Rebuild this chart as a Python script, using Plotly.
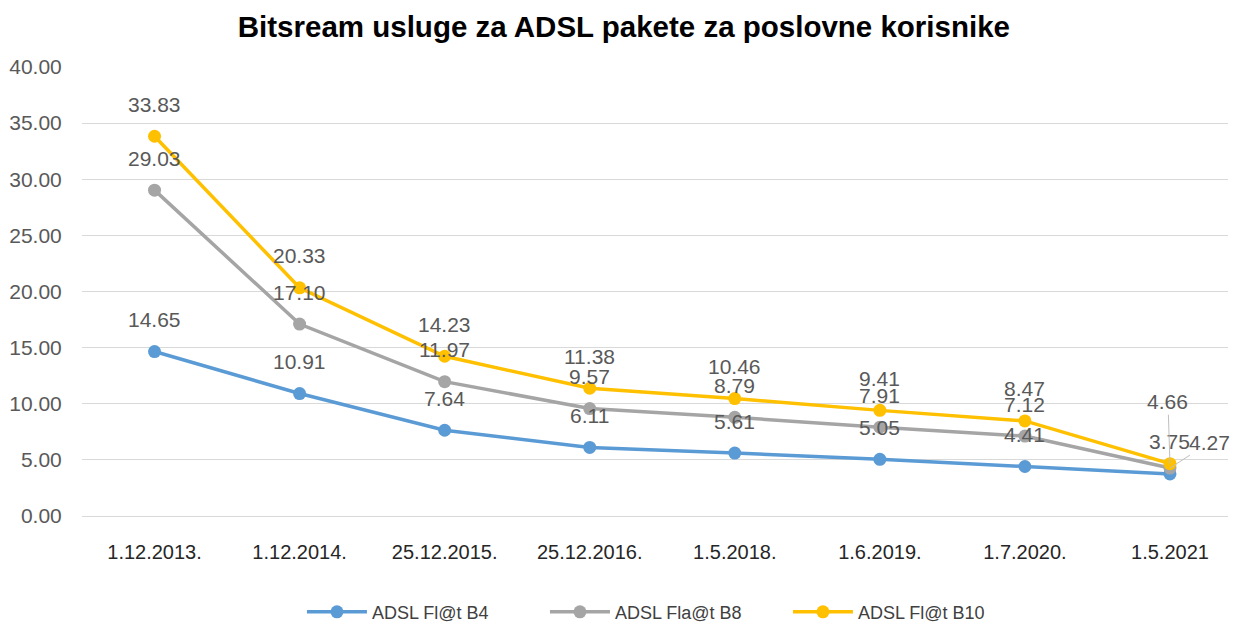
import plotly.graph_objects as go

dates = ["1.12.2013.", "1.12.2014.", "25.12.2015.", "25.12.2016.",
         "1.5.2018.", "1.6.2019.", "1.7.2020.", "1.5.2021"]
b4 = [14.65, 10.91, 7.64, 6.11, 5.61, 5.05, 4.41, 3.75]
b8 = [29.03, 17.10, 11.97, 9.57, 8.79, 7.91, 7.12, 4.27]
b10 = [33.83, 20.33, 14.23, 11.38, 10.46, 9.41, 8.47, 4.66]

series = [
    ("ADSL Fl@t B4", b4, "#5B9BD5"),
    ("ADSL Fla@t B8", b8, "#A5A5A5"),
    ("ADSL Fl@t B10", b10, "#FFC000"),
]

FONT = "Liberation Sans, Arial"
LABEL_FONT = dict(family=FONT, size=21, color="#595959")

fig = go.Figure()
for name, vals, color in series:
    fig.add_trace(go.Scatter(
        x=dates, y=vals, name=name, mode="lines+markers",
        line=dict(color=color, width=3.5),
        marker=dict(color=color, size=13),
        cliponaxis=False,
    ))

# data labels ~32px above each point
for d, v in zip(dates, b4):
    fig.add_annotation(x=d, y=v, text=f"{v:.2f}", showarrow=False,
                       yshift=32, font=LABEL_FONT)
for vals in (b8, b10):
    for d, v in zip(dates[:-1], vals[:-1]):
        fig.add_annotation(x=d, y=v, text=f"{v:.2f}", showarrow=False,
                           yshift=32, font=LABEL_FONT)

# last point labels for B8/B10 are pulled out with leader lines
last = dates[-1]
fig.add_annotation(x=last, y=b10[-1], text=f"{b10[-1]:.2f}", ax=-2, ay=-62,
                   showarrow=True, arrowhead=0, arrowcolor="#BFBFBF", arrowwidth=1,
                   font=LABEL_FONT, standoff=0)
fig.add_annotation(x=last, y=b8[-1], text=f"{b8[-1]:.2f}", ax=40, ay=-26,
                   showarrow=True, arrowhead=0, arrowcolor="#BFBFBF", arrowwidth=1,
                   font=LABEL_FONT, standoff=0)

fig.update_layout(
    width=1233, height=624,
    margin=dict(l=82, r=5, t=67, b=108, autoexpand=False),
    paper_bgcolor="white", plot_bgcolor="white",
    title=dict(text="<b>Bitsream usluge za ADSL pakete za poslovne korisnike</b>",
               x=0.506, xanchor="center", y=0.957, yanchor="middle",
               font=dict(family=FONT, size=29.5, color="black")),
    legend=dict(orientation="h", x=0.51, xanchor="center", y=-0.214, yanchor="middle",
                font=dict(family=FONT, size=18, color="#404040"),
                itemwidth=60, entrywidth=168, entrywidthmode="pixels"),
    showlegend=True,
)
fig.update_xaxes(range=[-0.5, 7.4], showgrid=False, showline=True, automargin=False,
                 linecolor="#D9D9D9", linewidth=1,
                 ticks="outside", ticklen=18, tickcolor="rgba(0,0,0,0)",
                 tickfont=dict(family=FONT, size=20, color="#262626"))
fig.update_yaxes(range=[0, 40], dtick=5, tickformat=".2f", showgrid=True, automargin=False,
                 gridcolor="#D9D9D9", zeroline=False, showline=False,
                 ticks="outside", ticklen=15, tickcolor="rgba(0,0,0,0)",
                 tickfont=dict(family=FONT, size=21, color="#595959"))

fig.write_html("out.html", config={"displayModeBar": False},
               post_script="document.body.style.margin='0';")
